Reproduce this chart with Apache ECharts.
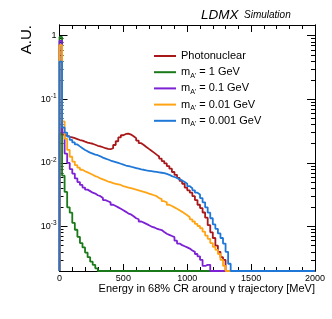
<!DOCTYPE html>
<html><head><meta charset="utf-8">
<script src="https://cdn.jsdelivr.net/npm/echarts@6/dist/echarts.min.js"></script>
<style>html,body{margin:0;padding:0;background:#fff}#c{width:332px;height:319px}</style>
</head><body><div id="c"></div>
<script>
// ---- data (20 MeV bins starting at 0; missing trailing bins are empty) ----
const binWidth = 20;
const nBins = 100;
const seriesNames = ['Photonuclear', "m_A' = 1 GeV", "m_A' = 0.1 GeV", "m_A' = 0.01 GeV", "m_A' = 0.001 GeV"];
const photonuclear = [0.0282,0.0275,0.0269,0.0257,0.0251,0.0245,0.0237,0.0229,0.0224,0.0216,
  0.0209,0.0204,0.0200,0.0193,0.0186,0.0182,0.0176,0.0170,0.0166,0.0164,
  0.0170,0.0191,0.0219,0.0251,0.0272,0.0285,0.0288,0.0279,0.0263,0.0245,
  0.0224,0.0204,0.0191,0.0178,0.0166,0.0155,0.0145,0.0135,0.0126,0.0117,
  0.0107,0.0098,0.0089,0.0081,0.0072,0.0065,0.0058,0.0052,0.0047,0.0041,
  0.0037,0.0034,0.0030,0.0026,0.0022,0.00195,0.00166,0.00138,0.00105,0.00081,
  0.00066,0.00050,0.00040,0.00033,0.00030];
const mA1 = [0.955,0.0063,0.0035,0.0020,0.00165,0.00114,0.00089,0.00069,0.00055,0.00047,
  0.00039,0.00033,0.00028,0.00025,0.00022];
const mA01 = [0.83,0.030,0.0140,0.0100,0.0080,0.0068,0.0057,0.0050,0.0045,0.0041,
  0.0038,0.0036,0.0034,0.0033,0.0031,0.0030,0.0028,0.0026,0.0025,0.0024,
  0.0022,0.0021,0.0020,0.0019,0.0018,0.0017,0.0016,0.00155,0.00145,0.00135,
  0.0013,0.0012,0.00115,0.0011,0.00105,0.0010,0.00097,0.00093,0.0009,0.00088,
  0.00082,0.00077,0.00074,0.00071,0.00068,0.00060,0.00054,0.00051,0.00049,0.00047,
  0.00045,0.00042,0.00040,0.00037,0.00034,0.00030,0.00024,0.00025,0.00025];
const mA001 = [0.71,0.045,0.024,0.016,0.0125,0.0105,0.0092,0.0084,0.0078,0.0074,
  0.0071,0.0068,0.0065,0.0062,0.0060,0.0057,0.0055,0.0053,0.0051,0.0050,
  0.0048,0.0047,0.0046,0.0045,0.0043,0.0042,0.0041,0.0040,0.0039,0.0038,
  0.0037,0.0036,0.0035,0.0034,0.0033,0.0032,0.0031,0.0030,0.0028,0.0027,
  0.0025,0.0024,0.0022,0.0021,0.0020,0.0019,0.0018,0.0017,0.0016,0.0015,
  0.0014,0.0013,0.0012,0.0011,0.00102,0.00094,0.00083,0.00072,0.00064,0.00055,
  0.00048,0.00043,0.00037,0.00030,0.00024];
const mA0001 = [0.39,0.036,0.030,0.026,0.023,0.021,0.0195,0.0182,0.0170,0.0160,
  0.0152,0.0145,0.0140,0.0135,0.0132,0.0127,0.0121,0.0117,0.0113,0.0109,
  0.0106,0.0103,0.0100,0.0097,0.0094,0.0091,0.0089,0.0087,0.0085,0.0083,
  0.0081,0.0079,0.0078,0.0076,0.0075,0.0074,0.0073,0.0072,0.0071,0.0070,
  0.0069,0.0067,0.0065,0.0062,0.0060,0.0058,0.0055,0.0053,0.0050,0.0047,
  0.0043,0.0040,0.0037,0.0034,0.0032,0.0028,0.0024,0.0020,0.00165,0.00135,
  0.00108,0.00092,0.00078,0.00066,0.00054,0.00040,0.00026];
const xTickLabels = [0, 500, 1000, 1500, 2000];
const yMajorTicks = [0.001, 0.01, 0.1, 1];
const yDecades = [0.0001, 0.001, 0.01, 0.1];
const minorMult = [2,3,4,5,6,7,8,9];
const yMin = 2e-4, yMax = 1.47;
const colors = ['#a8181a', '#1a7a1a', '#7c22d4', '#ffa515', '#1f78d8'];
// ---------------------------------------------------------------------------

const allVals = [photonuclear, mA1, mA01, mA001, mA0001];
function steps(vals) {
  const pts = [[0, yMin]];
  let last = yMin;
  for (let k = 0; k < nBins; k++) {
    const v = k < vals.length && vals[k] > 0 ? vals[k] : yMin;
    pts.push([k * binWidth, v]);
    last = v;
  }
  pts.push([nBins * binWidth, last]);
  return pts;
}
const minorTicks = [];
yDecades.forEach(d => minorMult.forEach(m => { const v = d * m; if (v >= yMin && v <= yMax) minorTicks.push(v); }));

const font = 'Liberation Sans, Arial, Helvetica, sans-serif';
const axisLine = { show: true, lineStyle: { color: '#000', width: 1 } };
function xAx(pos, labels) {
  return {
    type: 'value', position: pos, min: 0, max: 2000, interval: 500,
    axisLine, splitLine: { show: false },
    axisTick: { show: true, inside: true, length: 7, lineStyle: { color: '#000' } },
    minorTick: { show: true, splitNumber: 5, length: 4, lineStyle: { color: '#000' } },
    axisLabel: labels ? { show: true, color: '#000', fontFamily: font, fontSize: 9, margin: 3,
      customValues: xTickLabels, formatter: v => String(v) } : { show: false },
    name: labels ? 'Energy in 68% CR around \u03b3 trajectory [MeV]' : '',
    nameLocation: 'end', nameGap: 0,
    nameTextStyle: { color: '#000', fontFamily: font, fontSize: 11, align: 'right', verticalAlign: 'top', padding: [12, 0, 0, 0] }
  };
}
function yAx(pos, major, labels) {
  return {
    type: 'log', position: pos, min: yMin, max: yMax, logBase: 10,
    axisLine, splitLine: { show: false }, minorTick: { show: false },
    axisTick: { show: true, inside: true, length: major ? 8 : 4, customValues: major ? yMajorTicks : minorTicks, lineStyle: { color: '#000' } },
    axisLabel: labels ? {
      show: true, color: '#000', fontFamily: font, fontSize: 9, margin: 3,
      customValues: yMajorTicks,
      formatter: v => { const e = Math.round(Math.log10(v)); return e === 0 ? '{b|1}' : '{b|10}{s|' + e + '}'; },
      rich: { b: { fontSize: 9, fontFamily: font, color: '#000' }, s: { fontSize: 6.5, fontFamily: font, color: '#000', verticalAlign: 'top', padding: [0, 0, 6, 0] } }
    } : { show: false }
  };
}

const chart = echarts.init(document.getElementById('c'), null, { renderer: 'canvas' });
chart.setOption({
  animation: false,
  backgroundColor: '#fff',
  grid: { left: 59.5, right: 17, top: 25, bottom: 48, containLabel: false },
  xAxis: [xAx('bottom', true), xAx('top', false)],
  yAxis: [yAx('left', true, true), yAx('left', false, false), yAx('right', true, false), yAx('right', false, false)],
  legend: {
    orient: 'vertical', left: 154, top: 49, padding: 0, itemWidth: 22, itemHeight: 2, itemGap: 2.2, icon: 'rect',
    textStyle: { color: '#000', fontFamily: font, fontSize: 11, lineHeight: 14,
      rich: { m: { fontSize: 11, fontFamily: font, color: '#000' }, sub: { fontSize: 7, fontFamily: font, color: '#000', verticalAlign: 'bottom', padding: [5, 0, 0, 0] } } },
    formatter: n => n.startsWith('m_A') ? "{m|m}{sub|A'}{m|" + n.slice(4) + '}' : '{m|' + n + '}',
    data: seriesNames
  },
  graphic: [
    { type: 'text', left: 201, top: 8, style: { text: 'LDMX', font: 'italic 13.5px ' + font, fill: '#000' } },
    { type: 'text', left: 244, top: 10.5, style: { text: 'Simulation', font: 'italic 10px ' + font, fill: '#000' } },
    { type: 'text', x: 27, y: 25, rotation: Math.PI / 2, style: { text: 'A.U.', font: '15px ' + font, fill: '#000', align: 'right', verticalAlign: 'middle' } }
  ],
  series: allVals.map((vals, i) => ({
    name: seriesNames[i], type: 'line', step: 'end', showSymbol: false, symbol: 'none',
    xAxisIndex: 0, yAxisIndex: 0, clip: true,
    lineStyle: { color: colors[i], width: 1.8 }, itemStyle: { color: colors[i] },
    data: steps(vals), z: 2 + i
  }))
});
</script></body></html>
